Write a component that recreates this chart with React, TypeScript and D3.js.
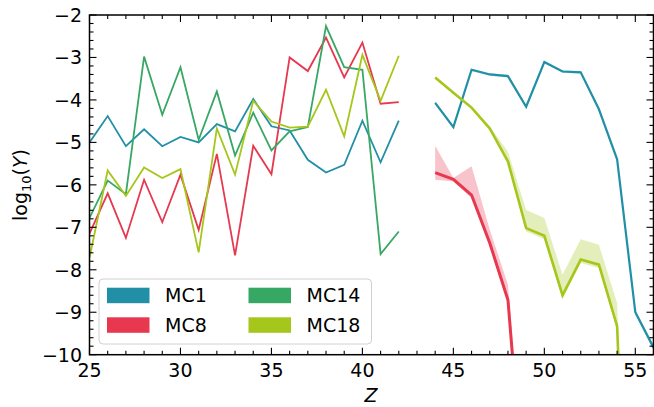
import React from 'react';
import * as d3 from 'd3';

const zLeft = [25,26,27,28,29,30,31,32,33,34,35,36,37,38,39,40,41,42];
const mc1Left = [-5.0,-4.38,-5.09,-4.69,-5.09,-4.87,-5.0,-4.57,-4.74,-3.98,-4.62,-4.72,-5.41,-5.71,-5.53,-4.49,-5.47,-4.49];
const mc8Left = [-7.15,-6.2,-7.25,-5.88,-6.88,-5.76,-7.06,-5.27,-7.66,-5.08,-5.75,-3.0,-3.32,-2.53,-3.47,-2.65,-4.09,-4.05];
const mc14Left = [-6.78,-5.90,-6.22,-2.98,-4.35,-3.23,-4.94,-3.80,-5.31,-4.30,-5.19,-4.74,-4.64,-2.26,-3.23,-3.29,-7.63,-7.10];
const mc18Left = [-7.72,-5.66,-6.26,-5.59,-5.84,-5.63,-7.59,-4.67,-5.76,-4.02,-4.51,-4.65,-4.63,-3.76,-4.86,-2.94,-4.02,-2.96];

const zRight = [44,45,46,47,48,49,50,51,52,53,54,55,56];
const mc1Right = [-4.07,-4.64,-3.29,-3.40,-3.44,-4.16,-3.11,-3.33,-3.35,-4.22,-5.40,-9.0,-9.83];
const mc1Hi = [-4.04,-4.61,-3.26,-3.37,-3.41,-4.13,-3.08,-3.30,-3.32,-4.19,-5.36,-8.94,-9.76];
const mc1Lo = [-4.10,-4.67,-3.32,-3.43,-3.47,-4.19,-3.14,-3.36,-3.38,-4.25,-5.44,-9.06,-9.90];
const mc8Right = [-5.71,-5.87,-6.24,-7.37,-8.71,-14,null,null,null,null,null,null,null];
const mc8Hi = [-5.08,-5.84,-5.56,-7.06,-8.35,-13.5,null,null,null,null,null,null,null];
const mc8Lo = [-5.88,-5.92,-6.31,-7.45,-8.78,-14.5,null,null,null,null,null,null,null];
const mc18Right = [-3.47,-3.83,-4.18,-4.67,-5.45,-7.02,-7.20,-8.60,-7.76,-7.88,-9.33,-20,null];
const mc18Hi = [-3.45,-3.80,-4.15,-4.62,-5.22,-6.59,-6.78,-8.12,-7.28,-7.41,-8.78,-19,null];
const mc18Lo = [-3.50,-3.86,-4.22,-4.72,-5.52,-7.10,-7.28,-8.68,-7.84,-7.96,-9.42,-21,null];

const xMajor = [25,30,35,40,45,50,55];
const yMajor = [-2,-3,-4,-5,-6,-7,-8,-9,-10];
const legendNames = ['MC1','MC8','MC14','MC18'];

const C1 = '#2190a6';
const C8 = '#e8384f';
const C14 = '#37a864';
const C18 = '#a5c61a';
const colors = [C1, C8, C14, C18];

const W = 654, H = 407;
const L = 89.5, R = 653.5, T = 15, B = 354.7;
const FONT = 'DejaVu Sans, sans-serif';

export default function App() {
  const x = d3.scaleLinear().domain([25, 56]).range([L, R]);
  const y = d3.scaleLinear().domain([-10, -2]).range([B, T]);

  const lineFor = (zs: number[], vs: (number|null)[]) =>
    d3.line<number>()
      .defined((_, i) => vs[i] !== null)
      .x((_, i) => x(zs[i]))
      .y((_, i) => y(vs[i] as number))(zs) || '';
  const areaFor = (zs: number[], lo: (number|null)[], hi: (number|null)[]) =>
    d3.area<number>()
      .defined((_, i) => lo[i] !== null && hi[i] !== null)
      .x((_, i) => x(zs[i]))
      .y0((_, i) => y(lo[i] as number))
      .y1((_, i) => y(hi[i] as number))(zs) || '';

  const xMinor = d3.range(25, 57, 1).filter(v => v % 5 !== 0);
  const yMinor = d3.range(-10, -2.001, 0.2).map(v => Math.round(v * 10) / 10).filter(v => Math.abs(v - Math.round(v)) > 0.01);

  const leftSeries = [mc1Left, mc8Left, mc14Left, mc18Left];

  const legendItems = legendNames.map((n, i) => ({
    name: n,
    color: colors[i],
    px: i < 2 ? 107 : 248.5,
    py: i % 2 === 0 ? 287.7 : 317.3,
  }));

  return (
    <svg width={W} height={H} style={{ position: 'absolute', left: 0, top: 0 }} fontFamily={FONT}>
      <defs>
        <clipPath id="plot">
          <rect x={L} y={T} width={R - L} height={B - T} />
        </clipPath>
      </defs>
      <rect x={0} y={0} width={W} height={H} fill="#fff" />
      <g clipPath="url(#plot)">
        {/* bands */}
        <path d={areaFor(zRight, mc1Lo, mc1Hi)} fill={C1} opacity={0.3} />
        <path d={areaFor(zRight, mc8Lo, mc8Hi)} fill={C8} opacity={0.3} />
        <path d={areaFor(zRight, mc18Lo, mc18Hi)} fill={C18} opacity={0.3} />
        {/* left lines */}
        {leftSeries.map((s, i) => (
          <path key={i} d={lineFor(zLeft, s)} fill="none" stroke={colors[i]} strokeWidth={1.8} strokeLinejoin="miter" />
        ))}
        {/* right lines */}
        <path d={lineFor(zRight, mc1Right)} fill="none" stroke={C1} strokeWidth={2.2} />
        <path d={lineFor(zRight, mc8Right)} fill="none" stroke={C8} strokeWidth={3} />
        <path d={lineFor(zRight, mc18Right)} fill="none" stroke={C18} strokeWidth={2.6} />
      </g>
      {/* ticks */}
      <g stroke="#000" strokeWidth={1.1}>
        {xMajor.map(v => (
          <g key={'xM' + v}>
            <line x1={x(v)} x2={x(v)} y1={B} y2={B - 7} />
            <line x1={x(v)} x2={x(v)} y1={T} y2={T + 7} />
          </g>
        ))}
        {xMinor.map(v => (
          <g key={'xm' + v}>
            <line x1={x(v)} x2={x(v)} y1={B} y2={B - 4} />
            <line x1={x(v)} x2={x(v)} y1={T} y2={T + 4} />
          </g>
        ))}
        {yMajor.map(v => (
          <g key={'yM' + v}>
            <line x1={L} x2={L + 7} y1={y(v)} y2={y(v)} />
            <line x1={R} x2={R - 7} y1={y(v)} y2={y(v)} />
          </g>
        ))}
        {yMinor.map(v => (
          <g key={'ym' + v}>
            <line x1={L} x2={L + 4} y1={y(v)} y2={y(v)} />
            <line x1={R} x2={R - 4} y1={y(v)} y2={y(v)} />
          </g>
        ))}
      </g>
      <rect x={L} y={T} width={R - L} height={B - T} fill="none" stroke="#000" strokeWidth={1.5} />
      {/* tick labels */}
      <g fontSize={19} fill="#000">
        {xMajor.map(v => (
          <text key={'xl' + v} x={x(v)} y={377} textAnchor="middle">{v}</text>
        ))}
        {yMajor.map(v => (
          <text key={'yl' + v} x={82} y={y(v) + 7} textAnchor="end">{'\u2212' + Math.abs(v)}</text>
        ))}
      </g>
      {/* axis labels */}
      <text x={371} y={402} fontSize={19} fontStyle="italic" textAnchor="middle">Z</text>
      <text transform="translate(27,185) rotate(-90)" fontSize={19} textAnchor="middle">
        log<tspan fontSize={13} dy={4}>10</tspan><tspan dy={-4}>(</tspan><tspan fontStyle="italic">Y</tspan>)
      </text>
      {/* legend */}
      <rect x={99} y={279} width={272.5} height={65} rx={4} fill="#fff" fillOpacity={0.8} stroke="#d0d0d0" strokeWidth={1} />
      {legendItems.map(it => (
        <g key={it.name}>
          <rect x={it.px} y={it.py} width={42.5} height={15.5} fill={it.color} />
          <text x={it.px + 58} y={it.py + 14.6} fontSize={19}>{it.name}</text>
        </g>
      ))}
    </svg>
  );
}
